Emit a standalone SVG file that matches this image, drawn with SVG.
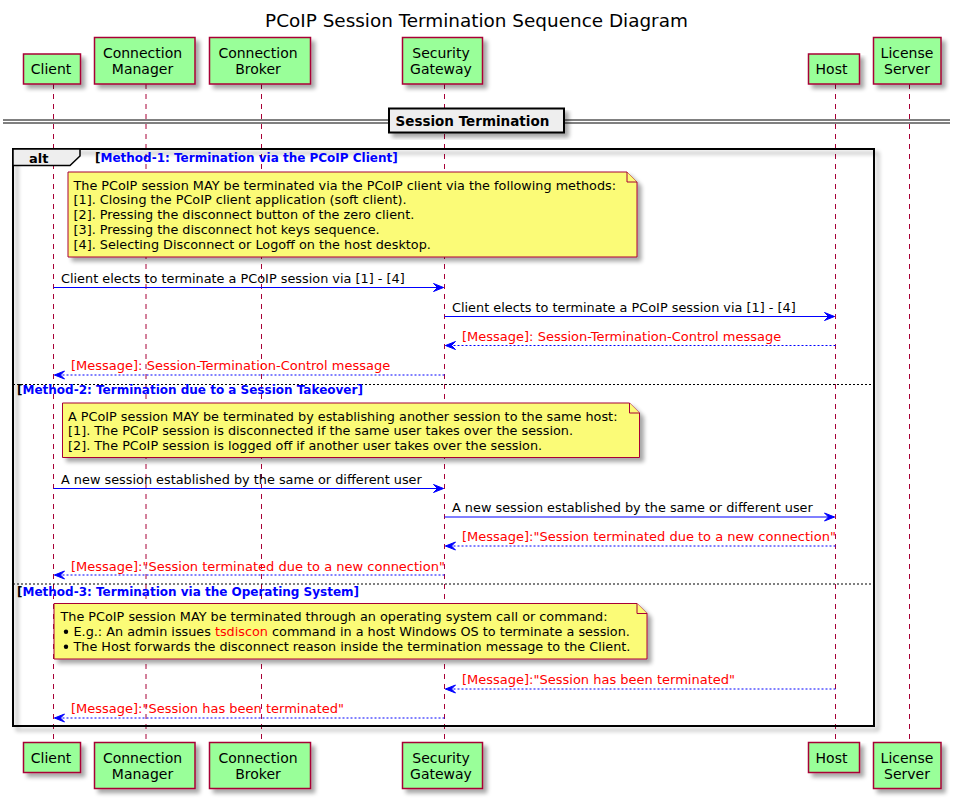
<svg xmlns="http://www.w3.org/2000/svg" width="961" height="806" viewBox="0 0 961 806">
<style>
text{font-family:"DejaVu Sans","Liberation Sans",sans-serif;}
.title{font-size:18.4px;fill:#000;}
.pbox{fill:#99FF99;stroke:#A80036;stroke-width:1.5;}
.ptxt{font-size:14px;fill:#000;text-anchor:middle;}
.life{stroke:#A80036;stroke-width:1;stroke-dasharray:5,5;fill:none;}
.note{fill:#FBFB77;stroke:#A80036;stroke-width:1;}
.ntxt{font-size:12.8px;fill:#000;}
.msg{stroke:#0000FF;stroke-width:1;fill:none;}
.ret{stroke:#0000FF;stroke-width:1;fill:none;stroke-dasharray:2,2;}
.mtxt{font-size:12.85px;fill:#000;}
.rtxt{font-size:13px;fill:#FF0000;}
.glab{font-size:12px;font-weight:bold;fill:#0000FF;}
.sep{stroke:#000;stroke-width:1;stroke-dasharray:2,2;}
.red{fill:#FF0000;}
</style>
<defs>
<filter id="sh" x="-10%" y="-10%" width="130%" height="140%">
<feGaussianBlur in="SourceAlpha" stdDeviation="2"/>
<feOffset dx="4" dy="4" result="b"/>
<feComponentTransfer><feFuncA type="linear" slope="0.35"/></feComponentTransfer>
<feMerge><feMergeNode/><feMergeNode in="SourceGraphic"/></feMerge>
</filter>
<marker id="ah" markerWidth="14" markerHeight="12" refX="11" refY="6" orient="auto" markerUnits="userSpaceOnUse" overflow="visible">
<polygon points="1,2 11,6 1,10 5,6" fill="#0000FF" stroke="#0000FF" stroke-width="1" stroke-linejoin="miter"/>
</marker>
</defs>
<rect width="961" height="806" fill="#FFFFFF"/>
<text class="title" x="476.5" y="27" text-anchor="middle">PCoIP Session Termination Sequence Diagram</text>

<g id="lifelines">
<line class="life" x1="53.5" y1="84" x2="53.5" y2="742"/>
<line class="life" x1="146" y1="84" x2="146" y2="742"/>
<line class="life" x1="261.5" y1="84" x2="261.5" y2="742"/>
<line class="life" x1="444.5" y1="84" x2="444.5" y2="742"/>
<line class="life" x1="835.5" y1="84" x2="835.5" y2="742"/>
<line class="life" x1="909.5" y1="84" x2="909.5" y2="742"/>
</g>

<g id="divider">
<line x1="3" y1="120" x2="950" y2="120" stroke="#000" stroke-width="1"/>
<line x1="3" y1="123" x2="950" y2="123" stroke="#000" stroke-width="1"/>
<rect x="389" y="108.5" width="175" height="24" fill="#EEEEEE" stroke="#000" stroke-width="2" filter="url(#sh)"/>
<text x="395.5" y="126" font-size="13.5" font-weight="bold">Session Termination</text>
</g>

<g id="alt-frame">
<rect x="13" y="149" width="861" height="577" fill="none" stroke="#000" stroke-width="2" filter="url(#sh)"/>
<polygon points="13,149 80,149 80,156 70,165.5 13,165.5" fill="#EEEEEE" stroke="#000" stroke-width="1.5"/>
<text x="29" y="162.5" font-size="13" font-weight="bold">alt</text>
<text x="95" y="162" class="glab"><tspan fill="#000">[</tspan>Method-1: Termination via the PCoIP Client]</text>
<line class="sep" x1="13" y1="384.5" x2="874" y2="384.5"/>
<text x="17" y="394" class="glab"><tspan fill="#000">[</tspan>Method-2: Termination due to a Session Takeover]</text>
<line class="sep" x1="13" y1="584" x2="874" y2="584"/>
<text x="17" y="595.5" class="glab"><tspan fill="#000">[</tspan>Method-3: Termination via the Operating System]</text>
</g>

<g id="note1">
<path class="note" d="M68,172 L627,172 L637,182 L637,257 L68,257 Z" filter="url(#sh)"/>
<path d="M627,172 L627,182 L637,182" fill="#FBFB77" stroke="#A80036" stroke-width="1"/>
<text class="ntxt" x="73.5" y="189.5">The PCoIP session MAY be terminated via the PCoIP client via the following methods:</text>
<text class="ntxt" x="73.5" y="204.3">[1]. Closing the PCoIP client application (soft client).</text>
<text class="ntxt" x="73.5" y="219">[2]. Pressing the disconnect button of the zero client.</text>
<text class="ntxt" x="73.5" y="233.8">[3]. Pressing the disconnect hot keys sequence.</text>
<text class="ntxt" x="73.5" y="248.5">[4]. Selecting Disconnect or Logoff on the host desktop.</text>
</g>

<g id="note2">
<path class="note" d="M62.5,403 L629.5,403 L639.5,413 L639.5,457.5 L62.5,457.5 Z" filter="url(#sh)"/>
<path d="M629.5,403 L629.5,413 L639.5,413" fill="#FBFB77" stroke="#A80036" stroke-width="1"/>
<text class="ntxt" x="68" y="420.5">A PCoIP session MAY be terminated by establishing another session to the same host:</text>
<text class="ntxt" x="68" y="435.3">[1]. The PCoIP session is disconnected if the same user takes over the session.</text>
<text class="ntxt" x="68" y="450">[2]. The PCoIP session is logged off if another user takes over the session.</text>
</g>

<g id="note3">
<path class="note" d="M54,603.5 L637,603.5 L647,613.5 L647,659 L54,659 Z" filter="url(#sh)"/>
<path d="M637,603.5 L637,613.5 L647,613.5" fill="#FBFB77" stroke="#A80036" stroke-width="1"/>
<text class="ntxt" x="60.5" y="621">The PCoIP session MAY be terminated through an operating system call or command:</text>
<circle cx="66" cy="631.7" r="2.2" fill="#000"/>
<text class="ntxt" x="73.5" y="636">E.g.: An admin issues <tspan class="red">tsdiscon</tspan> command in a host Windows OS to terminate a session.</text>
<circle cx="66" cy="646.7" r="2.2" fill="#000"/>
<text class="ntxt" x="73.5" y="651">The Host forwards the disconnect reason inside the termination message to the Client.</text>
</g>

<g id="connectors">
<line class="msg" x1="53.5" y1="287.5" x2="443.5" y2="287.5" marker-end="url(#ah)"/>
<text class="mtxt" x="61" y="283">Client elects to terminate a PCoIP session via [1] - [4]</text>
<line class="msg" x1="444.5" y1="316.5" x2="834.5" y2="316.5" marker-end="url(#ah)"/>
<text class="mtxt" x="452" y="311.5">Client elects to terminate a PCoIP session via [1] - [4]</text>
<line class="ret" x1="835.5" y1="345.5" x2="445.5" y2="345.5" marker-end="url(#ah)"/>
<text class="rtxt" x="462" y="340.5">[Message]: Session-Termination-Control message</text>
<line class="ret" x1="444.5" y1="375" x2="54.5" y2="375" marker-end="url(#ah)"/>
<text class="rtxt" x="71" y="369.5">[Message]: Session-Termination-Control message</text>

<line class="msg" x1="53.5" y1="488.5" x2="443.5" y2="488.5" marker-end="url(#ah)"/>
<text class="mtxt" x="61" y="483.5">A new session established by the same or different user</text>
<line class="msg" x1="444.5" y1="517" x2="834.5" y2="517" marker-end="url(#ah)"/>
<text class="mtxt" x="452" y="512">A new session established by the same or different user</text>
<line class="ret" x1="835.5" y1="546" x2="445.5" y2="546" marker-end="url(#ah)"/>
<text class="rtxt" x="462" y="541">[Message]:"Session terminated due to a new connection"</text>
<line class="ret" x1="444.5" y1="575" x2="54.5" y2="575" marker-end="url(#ah)"/>
<text class="rtxt" x="71" y="570.5">[Message]:"Session terminated due to a new connection"</text>

<line class="ret" x1="835.5" y1="689" x2="445.5" y2="689" marker-end="url(#ah)"/>
<text class="rtxt" x="462" y="684">[Message]:"Session has been terminated"</text>
<line class="ret" x1="444.5" y1="718" x2="54.5" y2="718" marker-end="url(#ah)"/>
<text class="rtxt" x="71" y="713">[Message]:"Session has been terminated"</text>
</g>

<g id="client">
<rect class="pbox" x="23.5" y="54" width="57" height="30" filter="url(#sh)"/>
<text class="ptxt" x="51" y="74">Client</text>
<rect class="pbox" x="23.5" y="742.5" width="57" height="30" filter="url(#sh)"/>
<text class="ptxt" x="51" y="762.5">Client</text>
</g>
<g id="connection-manager">
<rect class="pbox" x="94.5" y="37.5" width="100.5" height="46.5" filter="url(#sh)"/>
<text class="ptxt" x="142.5" y="58">Connection</text>
<text class="ptxt" x="142.5" y="74">Manager</text>
<rect class="pbox" x="94.5" y="742.5" width="100.5" height="46" filter="url(#sh)"/>
<text class="ptxt" x="142.5" y="762.5">Connection</text>
<text class="ptxt" x="142.5" y="778.5">Manager</text>
</g>
<g id="connection-broker">
<rect class="pbox" x="209.5" y="37.5" width="101" height="46.5" filter="url(#sh)"/>
<text class="ptxt" x="258" y="58">Connection</text>
<text class="ptxt" x="258" y="74">Broker</text>
<rect class="pbox" x="209.5" y="742.5" width="101" height="46" filter="url(#sh)"/>
<text class="ptxt" x="258" y="762.5">Connection</text>
<text class="ptxt" x="258" y="778.5">Broker</text>
</g>
<g id="security-gateway">
<rect class="pbox" x="402.5" y="37.5" width="80" height="46.5" filter="url(#sh)"/>
<text class="ptxt" x="441" y="58">Security</text>
<text class="ptxt" x="441" y="74">Gateway</text>
<rect class="pbox" x="402.5" y="742.5" width="80" height="46" filter="url(#sh)"/>
<text class="ptxt" x="441" y="762.5">Security</text>
<text class="ptxt" x="441" y="778.5">Gateway</text>
</g>
<g id="host">
<rect class="pbox" x="808.5" y="54" width="51" height="30" filter="url(#sh)"/>
<text class="ptxt" x="831.5" y="74">Host</text>
<rect class="pbox" x="808.5" y="742.5" width="51" height="30" filter="url(#sh)"/>
<text class="ptxt" x="831.5" y="762.5">Host</text>
</g>
<g id="license-server">
<rect class="pbox" x="873.5" y="37.5" width="67.5" height="46.5" filter="url(#sh)"/>
<text class="ptxt" x="907" y="58">License</text>
<text class="ptxt" x="907" y="74">Server</text>
<rect class="pbox" x="873.5" y="742.5" width="67.5" height="46" filter="url(#sh)"/>
<text class="ptxt" x="907" y="762.5">License</text>
<text class="ptxt" x="907" y="778.5">Server</text>
</g>
</svg>
